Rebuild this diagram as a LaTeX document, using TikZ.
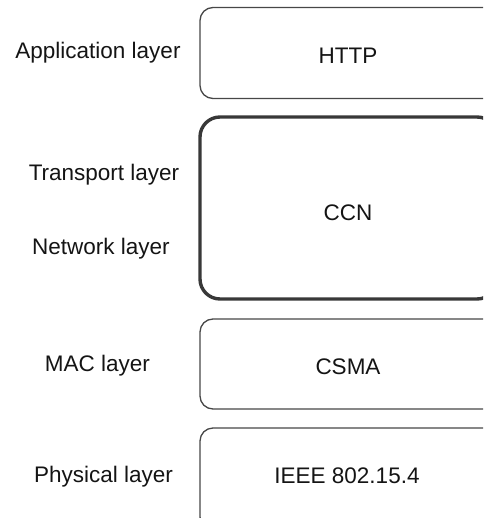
\documentclass[tikz,border=0pt]{standalone}
\usepackage{fontspec}
\setmainfont{Liberation Sans}
\begin{document}
\begin{tikzpicture}[x=1pt,y=-1pt,
  layerbox/.style={draw=black!72, line width=1.3pt, rounded corners=13pt},
  thickbox/.style={draw=black!78, line width=3.4pt, rounded corners=20pt},
  txt/.style={font=\fontsize{22.5}{27}\selectfont, text=black!92, inner sep=0pt, anchor=base}]
\useasboundingbox (0,0) rectangle (483,518);
\begin{scope}
\clip (0,0) rectangle (483,518);
\draw[layerbox] (200,7.5) rectangle (497,98.5);
\draw[thickbox] (200,117) rectangle (497,299);
\draw[layerbox] (200,319) rectangle (497,409);
\draw[layerbox] (200,428) rectangle (497,530);
\end{scope}
\node[txt] (http) at (348,63.5) {HTTP};
\node[txt] (ccn) at (348,221) {CCN};
\node[txt] (csma) at (348,374.5) {CSMA};
\node[txt] (ieee) at (347,483) {IEEE 802.15.4};
\node[txt] (app) at (98,58.5) {Application layer};
\node[txt] (trans) at (104,180.5) {Transport layer};
\node[txt] (net) at (101,254) {Network layer};
\node[txt] (mac) at (97.5,371.5) {MAC layer};
\node[txt] (phy) at (103.5,482) {Physical layer};
\end{tikzpicture}
\end{document}
